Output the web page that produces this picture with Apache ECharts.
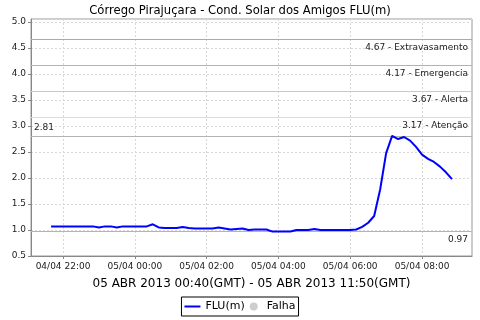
<!DOCTYPE html>
<html><head><meta charset="utf-8">
<script src="https://cdn.jsdelivr.net/npm/echarts@6/dist/echarts.min.js"></script>
<style>html,body{margin:0;padding:0;background:#fff}#c{width:480px;height:320px}</style>
</head><body><div id="c"></div>
<script>
const chartTitle = 'Córrego Pirajuçara - Cond. Solar dos Amigos FLU(m)';
const periodLabel = '05 ABR 2013 00:40(GMT) - 05 ABR 2013 11:50(GMT)';
const seriesNames = ['FLU(m)', 'Falha'];
// sampling: first reading 04/04 21:40 (minutes from 04/04 00:00), every 10 minutes
const startMinute = 1300;
const stepMinutes = 10;
const fluValues = [
  1.07,1.07,1.07,1.07,1.07,1.07,1.07,1.07,1.05,1.07,
  1.07,1.05,1.07,1.07,1.07,1.07,1.07,1.11,1.05,1.04,
  1.04,1.04,1.06,1.04,1.03,1.03,1.03,1.03,1.05,1.03,
  1.01,1.02,1.03,1.00,1.01,1.01,1.01,0.97,0.97,0.97,
  0.97,1.00,1.00,1.00,1.02,1.00,1.00,1.00,1.00,1.00,
  1.00,1.01,1.06,1.14,1.27,1.78,2.48,2.81,2.75,2.79,
  2.72,2.60,2.45,2.37,2.31,2.22,2.11,1.98
];
const falhaValues = [];
const xTickMinutes = [1320, 1440, 1560, 1680, 1800, 1920];
const xRange = [1266.5, 2003.5];
const yRange = [0.5, 5.06];
const yInterval = 0.5;
const thresholdValues = [4.67, 4.17, 3.67, 3.17];
const thresholdNames = ['Extravasamento', 'Emergencia', 'Alerta', 'Atenção'];
const maxValue = 2.81;
const minValue = 0.97;

const thresholdColors = ['#f08c8c', '#e88ce8', '#f8c080', '#f0e090'];
const refLineColor = '#b4b4b4';
const font = 'DejaVu Sans';

function fmtMinute(m) {
  const day = 4 + Math.floor(m / 1440);
  const mm = m % 1440;
  const h = Math.floor(mm / 60), mi = mm % 60;
  const p = n => (n < 10 ? '0' : '') + n;
  return p(day) + '/04 ' + p(h) + ':' + p(mi);
}

const lineData = fluValues.map((v, i) => [startMinute + i * stepMinutes, v]);

function refLineSeries(value, text, color, position, dist) {
  return {
    type: 'line', data: [], silent: true, legendHoverLink: false,
    markLine: {
      silent: true, symbol: 'none', animation: false,
      lineStyle: { color: color, type: 'solid', width: 1, opacity: 1 },
      label: { show: true, position: position, formatter: text, color: '#222',
               fontFamily: font, fontSize: 9, distance: dist },
      emphasis: { disabled: true },
      data: [{ yAxis: value }]
    }
  };
}

const refSeries = thresholdValues.map((v, i) =>
  refLineSeries(v, v.toFixed(2) + ' - ' + thresholdNames[i], thresholdColors[i], 'insideEndBottom', [4, 4]));
refSeries.push(refLineSeries(maxValue, maxValue.toFixed(2), refLineColor, 'insideStartTop', [3, 4]));
refSeries.push(refLineSeries(minValue, minValue.toFixed(2), refLineColor, 'insideEndBottom', [4, 4]));

const chart = echarts.init(document.getElementById('c'), null, { renderer: 'canvas' });
chart.setOption({
  animation: false,
  backgroundColor: '#fff',
  title: { text: chartTitle, left: 'center', top: 0,
           textStyle: { fontFamily: font, fontSize: 11.6, fontWeight: 'normal', color: '#000' } },
  grid: { left: 31, right: 8, top: 19, bottom: 64, show: true, borderColor: '#999', borderWidth: 1 },
  legend: {
    bottom: 4, left: 'center',
    data: [
      { name: seriesNames[0], icon: 'path://M0,0 H16 V2 H0 Z' },
      { name: seriesNames[1], icon: 'circle' }
    ],
    borderColor: '#000', borderWidth: 1, borderRadius: 0, padding: [4, 3],
    itemWidth: 16, itemHeight: 8, itemGap: 5,
    textStyle: { fontFamily: font, fontSize: 11, color: '#000' }
  },
  xAxis: {
    type: 'value', min: xRange[0], max: xRange[1],
    name: periodLabel, nameLocation: 'middle', nameGap: 22,
    nameTextStyle: { fontFamily: font, fontSize: 12, color: '#000' },
    axisLine: { show: true, lineStyle: { color: '#888' } },
    axisTick: { show: true, length: 3, customValues: xTickMinutes, lineStyle: { color: '#888' } },
    axisLabel: { customValues: xTickMinutes, formatter: fmtMinute, fontFamily: font, fontSize: 9, color: '#222', margin: 6 },
    splitLine: { show: true, lineStyle: { color: '#d8d8d8', type: [2, 2] } }
  },
  yAxis: {
    type: 'value', min: yRange[0], max: yRange[1], interval: yInterval,
    axisLine: { show: true, lineStyle: { color: '#888' } },
    axisTick: { show: true, length: 3, lineStyle: { color: '#888' } },
    axisLabel: { showMaxLabel: false, formatter: v => v.toFixed(1), fontFamily: font, fontSize: 9, color: '#222', margin: 5 },
    splitLine: { show: true, lineStyle: { color: '#d8d8d8', type: [2, 2] } }
  },
  series: [
    { name: seriesNames[0], type: 'line', data: lineData, showSymbol: false, symbol: 'none',
      lineStyle: { color: '#0000ff', width: 2 }, itemStyle: { color: '#0000ff' }, z: 5 },
    { name: seriesNames[1], type: 'scatter', data: falhaValues, symbol: 'circle',
      itemStyle: { color: '#c0c0c0' } }
  ].concat(refSeries)
});
</script></body></html>
